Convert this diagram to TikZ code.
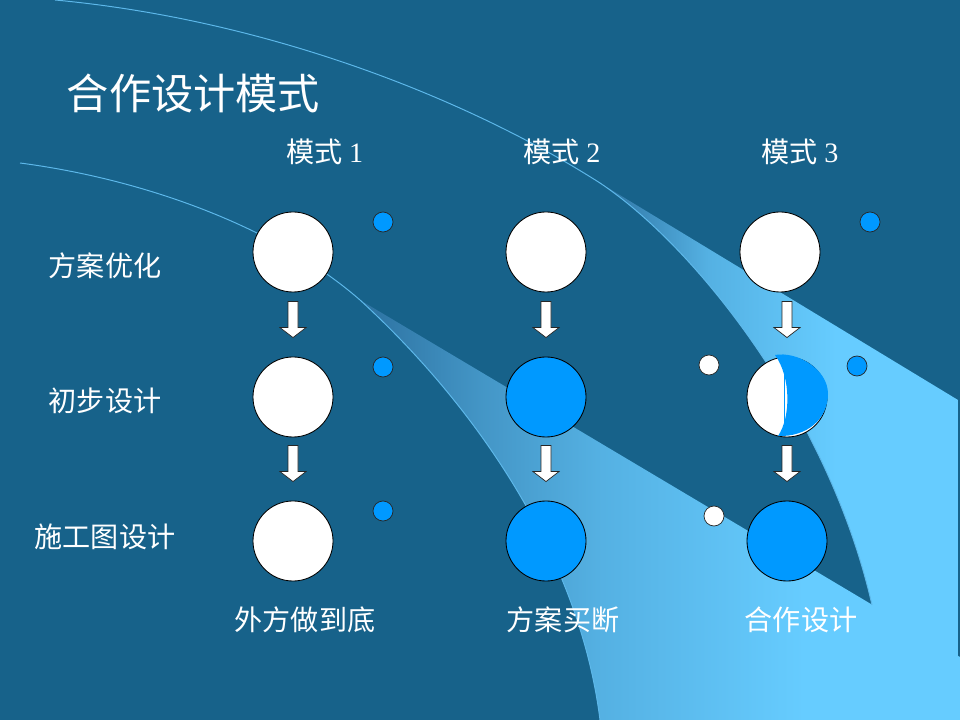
\documentclass[tikz,border=0pt]{standalone}
\usepackage{fontspec}
\setmainfont{Noto Sans CJK SC}
\newfontfamily\numfont{Liberation Serif}
\usepackage{tikz}
\usetikzlibrary{calc}
\definecolor{deepsea}{HTML}{17628A}
\definecolor{skyblue}{HTML}{66CCFF}
\definecolor{midblue}{HTML}{2C71A0}
\definecolor{dotblue}{HTML}{0099FF}
\definecolor{curveline}{HTML}{5DB8EA}
\pgfdeclarehorizontalshading{swooshupper}{100bp}{color(0bp)=(midblue); color(25bp)=(midblue); color(40bp)=(skyblue!70!midblue); color(58bp)=(skyblue); color(100bp)=(skyblue)}
\pgfdeclarehorizontalshading{swooshlower}{100bp}{color(0bp)=(midblue); color(25bp)=(midblue); color(35bp)=(skyblue!40!midblue); color(45bp)=(skyblue!70!midblue); color(62bp)=(skyblue); color(100bp)=(skyblue)}

\begin{document}
\begin{tikzpicture}[x=0.025cm, y=-0.025cm,
		bigdot/.style={circle, draw=black, line width=0.6pt, minimum size=2cm, inner sep=0pt},
		smalldot/.style={circle, draw=black!85, line width=0.5pt, minimum size=0.5cm, inner sep=0pt},
		flowarrow/.style={draw=black!85, fill=white, line width=0.5pt},
		lbl/.style={text=white, font=\fontsize{20}{24}\selectfont}]
	% background and swooshes
	\fill[deepsea] (0,0) rectangle (960,720);
	\useasboundingbox (0,0) rectangle (960,720);
	\shade[shading=swooshupper] (600,183) -- (958,400) -- (958,720) -- (880,720) -- (872,605) .. controls (830,420) and (700,250) .. (600,183) -- cycle;
	\shade[shading=swooshlower] (360,300) -- (960,657) -- (960,720) -- (600,720) .. controls (580,560) and (480,410) .. (360,300) -- cycle;
	\draw[curveline, line width=0.7pt] (55,0) .. controls (270,20) and (470,100) .. (600,183) .. controls (700,250) and (830,420) .. (872,605);
	\draw[curveline, line width=0.7pt] (20,163) .. controls (150,180) and (280,230) .. (360,300) .. controls (480,410) and (580,560) .. (600,720);

	\node[text=white, anchor=west, font=\fontsize{30}{36}\selectfont] (title) at (62,93) {合作设计模式};
	\foreach \x/\n in {325/1, 562/2, 800/3}
		\node[lbl] (mode\n) at (\x,152) {模式 {\numfont\n}};
	\foreach \y/\txt [count=\i] in {266/方案优化, 401/初步设计, 537/施工图设计}
		\node[lbl] (row\i) at (105,\y) {\txt};
	\foreach \x/\txt [count=\i] in {305/外方做到底, 563/方案买断, 801/合作设计}
		\node[lbl] (result\i) at (\x,620) {\txt};

	% circles
	\node[bigdot, fill=white] (c11) at (293,252) {};
	\node[bigdot, fill=white] (c12) at (293,397) {};
	\node[bigdot, fill=white] (c13) at (293,541) {};
	\node[bigdot, fill=white] (c21) at (546,252) {};
	\node[bigdot, fill=dotblue] (c22) at (546,397) {};
	\node[bigdot, fill=dotblue] (c23) at (546,541) {};
	\node[bigdot, fill=white] (c31) at (780,252) {};
	\node[bigdot, fill=white] (c32) at (787,397) {};
	\node[bigdot, fill=dotblue] (c33) at (787,541) {};
	\begin{scope}[shift={(c32.center)}]
		\fill[dotblue] (-12,-42) .. controls (10,-46) and (41,-28) .. (41,-3) .. controls (41,22) and (20,40) .. (-9,39) .. controls (4,20) and (4,-20) .. (-12,-42) -- cycle;
		\draw[dotblue, line width=0.5pt] (-3,-22) -- (-3,33);
	\end{scope}

	\node[smalldot, fill=dotblue] (d1) at (383,222) {};
	\node[smalldot, fill=dotblue] (d2) at (383,367) {};
	\node[smalldot, fill=dotblue] (d3) at (383,511) {};
	\node[smalldot, fill=dotblue] (d4) at (870,222) {};
	\node[smalldot, fill=dotblue] (d5) at (857,366) {};
	\node[smalldot, fill=white] (d6) at (709,365) {};
	\node[smalldot, fill=white] (d7) at (714,516) {};

	% arrows down to each lower circle
	\foreach \lower in {c12, c13, c22, c23, c32, c33}
		\draw[flowarrow] ($(\lower.north)+(-5,-55)$) -- ++(10,0) -- ++(0,26) -- ++(8,0) -- ++(-13,10) -- ++(-13,-10) -- ++(8,0) -- cycle;
\end{tikzpicture}
\end{document}
